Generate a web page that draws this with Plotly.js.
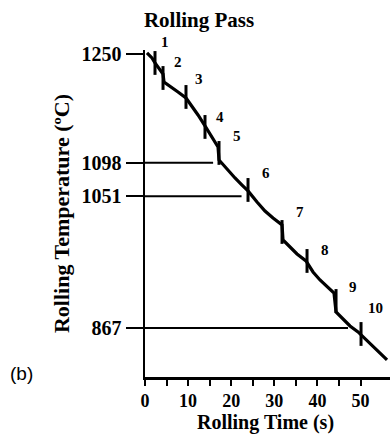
<!DOCTYPE html>
<html>
<head>
<meta charset="utf-8">
<script src="https://cdn.plot.ly/plotly-3.0.1.min.js"></script>
<style>html,body{margin:0;padding:0;background:#fff;}#chart{width:391px;height:435px;}</style>
</head>
<body>
<div id="chart"></div>
<script>
// ---- data ----
const curveTime = [0.46,1.62,2.32,3.48,4.18,4.41,5.80,7.66,9.51,10.90,12.30,13.92,15.55,16.94,17.17,18.79,20.88,22.51,23.90,25.99,27.84,29.70,31.79,32.02,33.64,35.27,37.35,38.98,40.60,42.23,43.85,44.32,45.71,47.56,49.42,50.12,51.51,53.13,54.52,56.15];
const curveTemp = [1251.3,1244.3,1237.3,1227.5,1221.9,1210.7,1205.2,1196.8,1188.4,1177.2,1164.6,1149.3,1132.5,1119.9,1101.8,1090.6,1076.6,1066.8,1058.5,1043.1,1030.5,1020.7,1011.0,990.0,980.2,970.5,960.7,945.3,934.1,924.4,916.0,889.4,881.0,869.9,861.5,857.3,848.9,839.1,830.8,822.4];
const passNo   = ["1","2","3","4","5","6","7","8","9","10"];
const passTime = [2.32,4.18,9.51,13.92,17.17,23.90,31.79,37.59,44.32,50.12];
const passTemp = [1237.3,1216.3,1189.8,1147.9,1111.6,1059.9,1001.2,960.7,904.8,858.7];
const markTemp = [1250,1098,1051,867];
const markLineEnd = [0,15.8,22.4,47.1];
const xTickVals = [0,5,10,15,20,25,30,35,40,45,50];
const xTickText = ["0","","10","","20","","30","","40","","50"];

// ---- layout offsets for pass labels (pixels) ----
const labelShift = [[10,21],[15,16],[13,18],[15,10],[18,17],[18,17],[18,20],[18,11],[17,14],[14,26]];

const serif = "Liberation Serif, Times New Roman, serif";
const traces = [];
markTemp.forEach((v,i)=>{
  if (markLineEnd[i] > 0) traces.push({x:[0,markLineEnd[i]], y:[v,v], mode:'lines', line:{color:'#000',width:2}, hoverinfo:'skip'});
});
traces.push({x:curveTime, y:curveTemp, mode:'lines', line:{color:'#000',width:3.2}, hoverinfo:'skip'});
traces.push({x:passTime, y:passTemp, mode:'markers', marker:{symbol:'line-ns', size:17, color:'#000', line:{color:'#000',width:3}}, hoverinfo:'skip'});

const annotations = passNo.map((t,i)=>({x:passTime[i], y:passTemp[i], text:t, showarrow:false, xshift:labelShift[i][0], yshift:labelShift[i][1], font:{family:serif, size:15, weight:'bold', color:'#000'}}));
annotations.push({xref:'paper', yref:'paper', x:-0.506, y:0, text:'(b)', showarrow:false, xanchor:'center', yanchor:'middle', yshift:4, font:{family:'Liberation Sans, Arial, sans-serif', size:19, color:'#000'}});
annotations.push({xref:'paper', yref:'paper', x:0.49, y:0, text:'Rolling Time (s)', showarrow:false, xanchor:'center', yanchor:'bottom', yshift:-58, borderpad:0, font:{family:serif, size:20, weight:'bold', color:'#000'}});

const layout = {
  width:391, height:435,
  margin:{l:145, r:1, t:50, b:58},
  paper_bgcolor:'#fff', plot_bgcolor:'#fff',
  showlegend:false,
  title:{text:'Rolling Pass', x:0.509, xanchor:'center', y:0.954, yanchor:'middle', font:{family:serif, size:21, weight:'bold', color:'#000'}},
  xaxis:{range:[0,56.84], showgrid:false, zeroline:false, showline:true, linecolor:'#000', linewidth:2.5,
    ticks:'outside', ticklen:6, tickwidth:2, tickcolor:'#000', tickmode:'array', tickvals:xTickVals, ticktext:xTickText,
    ticklabelstandoff:0,
    tickfont:{family:serif, size:18, weight:'bold', color:'#000'}},
  yaxis:{range:[798.6,1255.4], showgrid:false, zeroline:false, showline:true, linecolor:'#000', linewidth:2.5,
    ticks:'outside', ticklen:17, tickwidth:2, tickcolor:'#000', tickmode:'array', tickvals:markTemp, ticktext:markTemp.map(String),
    tickfont:{family:serif, size:20, weight:'bold', color:'#000'},
    title:{text:'Rolling Temperature (ºC)', standoff:6, font:{family:serif, size:22, weight:'bold', color:'#000'}}},
  annotations:annotations
};
Plotly.newPlot('chart', traces, layout, {staticPlot:true, displayModeBar:false});
</script>
</body>
</html>
